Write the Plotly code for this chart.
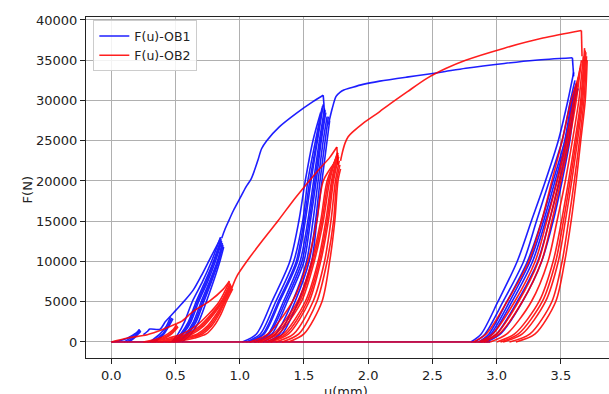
import plotly.graph_objects as go

# ---------------- OB1 (blue) ----------------
# backbone (envelope) segments
ob1_bb1_u = [0.0, 0.05, 0.10, 0.15, 0.20, 0.22]
ob1_bb1_f = [0, 100, 300, 700, 1200, 1550]
ob1_bb2_u = [0.25, 0.28, 0.30, 0.38, 0.42, 0.46, 0.50, 0.58, 0.64, 0.70, 0.78, 0.855]
ob1_bb2_f = [900, 1300, 1600, 1600, 2500, 3200, 3900, 5300, 6500, 8200, 10700, 13000]
ob1_bb3_u = [0.86, 0.885, 0.91, 0.95, 1.00, 1.05, 1.09, 1.14, 1.17, 1.21, 1.31, 1.44, 1.57, 1.65]
ob1_bb3_f = [12900, 14000, 14900, 16300, 17800, 19300, 20300, 22500, 24000, 25000, 26750, 28400, 29850, 30650]
ob1_bb4_u = [1.69, 1.72, 1.75, 1.78, 1.81, 1.88, 1.96, 2.09, 2.30, 2.46, 2.60, 2.76, 3.06, 3.30, 3.59]
ob1_bb4_f = [27000, 29000, 30500, 31000, 31300, 31650, 32000, 32400, 32900, 33250, 33600, 34000, 34600, 35000, 35300]
ob1_drop_u = [[1.65, 1.66], [3.59, 3.60]]
ob1_drop_f = [[30650, 28500], [35300, 33000]]
ob1_zero_u = [0.0, 2.95]
ob1_zero_f = [0, 0]

# loop families: force levels, u at each level (+ u at peak), peak force
ob1_la_f = [0, 500, 1000]
ob1_la_u = [[0.10, 0.15, 0.19, 0.22], [0.12, 0.17, 0.20, 0.225], [0.14, 0.18, 0.21, 0.23]]
ob1_la_peak = [1550, 1450, 1350]

ob1_lb_f = [0, 1000, 2000]
ob1_lb_u = [[0.30, 0.38, 0.43, 0.46], [0.32, 0.40, 0.44, 0.47], [0.34, 0.41, 0.45, 0.48]]
ob1_lb_peak = [3100, 3000, 2900]

ob1_lc_f = [0, 1000, 2500, 5000, 7500, 10000]
ob1_lc_u = [[0.47, 0.52, 0.57, 0.63, 0.71, 0.78, 0.85],
            [0.48, 0.54, 0.60, 0.66, 0.73, 0.795, 0.855],
            [0.49, 0.55, 0.61, 0.67, 0.74, 0.80, 0.857],
            [0.50, 0.56, 0.62, 0.68, 0.75, 0.81, 0.86],
            [0.51, 0.58, 0.64, 0.70, 0.765, 0.825, 0.865],
            [0.52, 0.59, 0.65, 0.71, 0.772, 0.83, 0.867],
            [0.53, 0.60, 0.66, 0.72, 0.78, 0.835, 0.87],
            [0.55, 0.62, 0.68, 0.74, 0.795, 0.845, 0.875]]
ob1_lc_peak = [13000, 12800, 12600, 12500, 12300, 12100, 12000, 11800]

ob1_ld_f = [0, 1000, 5000, 10000, 15000, 20000, 25000]
ob1_ld_u = [[1.02, 1.13, 1.25, 1.39, 1.46, 1.51, 1.57, 1.63],
            [1.05, 1.16, 1.28, 1.42, 1.49, 1.53, 1.59, 1.64],
            [1.07, 1.18, 1.30, 1.44, 1.50, 1.545, 1.60, 1.645],
            [1.08, 1.19, 1.31, 1.45, 1.51, 1.555, 1.605, 1.65],
            [1.11, 1.22, 1.34, 1.47, 1.53, 1.575, 1.62, 1.66],
            [1.12, 1.23, 1.355, 1.485, 1.54, 1.585, 1.628, 1.665],
            [1.14, 1.25, 1.37, 1.50, 1.55, 1.595, 1.635, 1.67],
            [1.18, 1.28, 1.41, 1.52, 1.57, 1.61, 1.65, 1.68],
            [1.21, 1.31, 1.43, 1.54, 1.59, 1.625, 1.665, 1.69],
            [1.24, 1.33, 1.455, 1.56, 1.60, 1.64, 1.68, 1.70]]
ob1_ld_peak = [28500, 29000, 29300, 29500, 29000, 28800, 28500, 28000, 28000, 27500]

ob1_le_f = [0, 1000, 5000, 10000, 15000, 20000, 25000, 30000]
ob1_le_u = [[2.80, 2.88, 3.01, 3.16, 3.27, 3.38, 3.48, 3.555, 3.60],
            [2.83, 2.91, 3.05, 3.21, 3.31, 3.41, 3.51, 3.575, 3.61],
            [2.86, 2.94, 3.08, 3.24, 3.35, 3.44, 3.53, 3.585, 3.62],
            [2.87, 2.955, 3.10, 3.26, 3.365, 3.455, 3.54, 3.59, 3.622],
            [2.88, 2.97, 3.12, 3.28, 3.38, 3.47, 3.545, 3.595, 3.625],
            [2.90, 3.00, 3.16, 3.32, 3.41, 3.49, 3.56, 3.605, 3.63],
            [2.92, 3.03, 3.20, 3.35, 3.44, 3.51, 3.57, 3.61, 3.635]]
ob1_le_peak = [33500, 32500, 32000, 32200, 32000, 31500, 31500]

# ---------------- OB2 (red) ----------------
ob2_bb1_u = [0.0, 0.13, 0.28, 0.40, 0.51]
ob2_bb1_f = [0, 500, 900, 1540, 2290]
ob2_bb2_u = [0.51, 0.55, 0.64, 0.765, 0.87, 0.92]
ob2_bb2_f = [2290, 2600, 3830, 5080, 6530, 7575]
ob2_bb3_u = [0.925, 0.975, 1.067, 1.18, 1.30, 1.44, 1.61, 1.70, 1.756]
ob2_bb3_f = [6100, 8100, 10280, 12670, 15100, 18050, 21310, 22900, 24220]
ob2_bb4_u = [1.785, 1.80, 1.82, 1.844, 1.88, 1.96, 2.09, 2.155, 2.306, 2.457, 2.608, 2.759, 3.06, 3.36, 3.66]
ob2_bb4_f = [22500, 23600, 24700, 25500, 26100, 27170, 28620, 29400, 31100, 32750, 34000, 35000, 36500, 37750, 38700]
ob2_drop_u = [[1.756, 1.765], [3.66, 3.665]]
ob2_drop_f = [[24220, 22000], [38700, 35500]]
ob2_zero_u = [0.0, 2.95]
ob2_zero_f = [0, 0]

ob2_la_f = [0, 500, 1000, 1500]
ob2_la_u = [[0.25, 0.38, 0.44, 0.48, 0.51], [0.28, 0.40, 0.46, 0.49, 0.515], [0.31, 0.42, 0.47, 0.50, 0.52]]
ob2_la_peak = [2200, 2000, 1900]

ob2_lb_f = [0, 500, 1000, 2000, 3500, 5000]
ob2_lb_u = [[0.33, 0.45, 0.55, 0.66, 0.76, 0.84, 0.92],
            [0.36, 0.49, 0.59, 0.69, 0.78, 0.855, 0.925],
            [0.38, 0.51, 0.61, 0.705, 0.79, 0.86, 0.928],
            [0.39, 0.53, 0.63, 0.72, 0.80, 0.865, 0.93],
            [0.42, 0.57, 0.67, 0.75, 0.82, 0.875, 0.935],
            [0.44, 0.59, 0.69, 0.765, 0.83, 0.88, 0.938],
            [0.45, 0.61, 0.71, 0.78, 0.84, 0.885, 0.94],
            [0.48, 0.65, 0.74, 0.80, 0.855, 0.895, 0.945]]
ob2_lb_peak = [7500, 7300, 7200, 7100, 7000, 6900, 6800, 6600]

ob2_lc_f = [0, 1000, 5000, 10000, 15000, 20000]
ob2_lc_u = [[1.08, 1.22, 1.41, 1.53, 1.60, 1.65, 1.75],
            [1.12, 1.26, 1.45, 1.56, 1.63, 1.68, 1.755],
            [1.14, 1.28, 1.465, 1.57, 1.64, 1.69, 1.757],
            [1.16, 1.30, 1.48, 1.58, 1.65, 1.70, 1.76],
            [1.20, 1.34, 1.51, 1.61, 1.67, 1.715, 1.765],
            [1.22, 1.36, 1.525, 1.62, 1.68, 1.722, 1.767],
            [1.24, 1.38, 1.54, 1.63, 1.69, 1.73, 1.77],
            [1.28, 1.42, 1.57, 1.66, 1.71, 1.745, 1.775],
            [1.33, 1.46, 1.60, 1.68, 1.73, 1.755, 1.78],
            [1.38, 1.50, 1.64, 1.70, 1.74, 1.765, 1.785]]
ob2_lc_peak = [22500, 23000, 23200, 23500, 23500, 23200, 23000, 22500, 22000, 21500]

ob2_ld_f = [0, 1000, 5000, 10000, 15000, 20000, 25000, 30000]
ob2_ld_u = [[2.82, 2.92, 3.08, 3.25, 3.35, 3.43, 3.51, 3.58, 3.64],
            [2.86, 2.97, 3.14, 3.30, 3.39, 3.47, 3.54, 3.60, 3.65],
            [2.88, 3.00, 3.17, 3.325, 3.41, 3.485, 3.552, 3.61, 3.655],
            [2.90, 3.02, 3.20, 3.35, 3.43, 3.50, 3.565, 3.62, 3.66],
            [2.95, 3.08, 3.27, 3.40, 3.47, 3.535, 3.59, 3.64, 3.675],
            [3.00, 3.14, 3.33, 3.44, 3.505, 3.56, 3.61, 3.655, 3.685],
            [3.03, 3.17, 3.355, 3.46, 3.52, 3.572, 3.62, 3.662, 3.69],
            [3.05, 3.20, 3.38, 3.48, 3.535, 3.585, 3.63, 3.67, 3.695],
            [3.10, 3.26, 3.43, 3.51, 3.56, 3.605, 3.645, 3.68, 3.70],
            [3.15, 3.30, 3.46, 3.53, 3.58, 3.62, 3.655, 3.69, 3.705]]
ob2_ld_peak = [33000, 34000, 34500, 35000, 35500, 36500, 36200, 36000, 35500, 35000]


def add_seg(us, fs, u, f):
    us.extend(u + [None])
    fs.extend(f + [None])


def build(backbones, families, zero):
    us, fs = [], []
    add_seg(us, fs, zero[0], zero[1])
    for bu, bf in backbones:
        add_seg(us, fs, bu, bf)
    for levels, ulist, peaks in families:
        for uu, pk in zip(ulist, peaks):
            add_seg(us, fs, uu, levels + [pk])
    return us, fs


def build_drops(du, df):
    us, fs = [], []
    for u, f in zip(du, df):
        add_seg(us, fs, u, f)
    return us, fs


b_u, b_f = build([(ob1_bb1_u, ob1_bb1_f), (ob1_bb2_u, ob1_bb2_f), (ob1_bb3_u, ob1_bb3_f), (ob1_bb4_u, ob1_bb4_f)],
                 [(ob1_la_f, ob1_la_u, ob1_la_peak), (ob1_lb_f, ob1_lb_u, ob1_lb_peak),
                  (ob1_lc_f, ob1_lc_u, ob1_lc_peak), (ob1_ld_f, ob1_ld_u, ob1_ld_peak),
                  (ob1_le_f, ob1_le_u, ob1_le_peak)],
                 (ob1_zero_u, ob1_zero_f))
r_u, r_f = build([(ob2_bb1_u, ob2_bb1_f), (ob2_bb2_u, ob2_bb2_f), (ob2_bb3_u, ob2_bb3_f), (ob2_bb4_u, ob2_bb4_f)],
                 [(ob2_la_f, ob2_la_u, ob2_la_peak), (ob2_lb_f, ob2_lb_u, ob2_lb_peak),
                  (ob2_lc_f, ob2_lc_u, ob2_lc_peak), (ob2_ld_f, ob2_ld_u, ob2_ld_peak)],
                 (ob2_zero_u, ob2_zero_f))
bd_u, bd_f = build_drops(ob1_drop_u, ob1_drop_f)
rd_u, rd_f = build_drops(ob2_drop_u, ob2_drop_f)

BLUE = "#0000ff"
RED = "#ff0000"
LW = 1.6

fig = go.Figure()
fig.add_trace(go.Scatter(x=b_u, y=b_f, mode="lines", name="F(u)-OB1", legendgroup="ob1",
                         line=dict(color=BLUE, width=LW, shape="spline", smoothing=0.8),
                         connectgaps=False, opacity=0.88))
fig.add_trace(go.Scatter(x=bd_u, y=bd_f, mode="lines", showlegend=False, legendgroup="ob1",
                         line=dict(color=BLUE, width=LW), connectgaps=False, opacity=0.88))
fig.add_trace(go.Scatter(x=r_u, y=r_f, mode="lines", name="F(u)-OB2", legendgroup="ob2",
                         line=dict(color=RED, width=LW, shape="spline", smoothing=0.8),
                         connectgaps=False, opacity=0.88))
fig.add_trace(go.Scatter(x=rd_u, y=rd_f, mode="lines", showlegend=False, legendgroup="ob2",
                         line=dict(color=RED, width=LW), connectgaps=False, opacity=0.88))

x_ticks = [0.0, 0.5, 1.0, 1.5, 2.0, 2.5, 3.0, 3.5]
y_ticks = [0, 5000, 10000, 15000, 20000, 25000, 30000, 35000, 40000]

FONT = "DejaVu Sans"
FS = 13
fig.update_layout(
    width=609, height=394,
    margin=dict(l=86, r=0, t=17, b=36),
    paper_bgcolor="white", plot_bgcolor="white",
    font=dict(family=FONT, size=FS, color="#222"),
    showlegend=True,
    legend=dict(x=0.014, y=0.99, xanchor="left", yanchor="top",
                bgcolor="rgba(255,255,255,0.85)", bordercolor="#cccccc", borderwidth=1,
                font=dict(family=FONT, size=12.5, color="#222"), tracegroupgap=0,
                itemwidth=30),
    xaxis=dict(range=[-0.197, 3.875], tickvals=x_ticks, ticktext=[f"{v:.1f}" for v in x_ticks],
               showgrid=True, gridcolor="#b0b0b0", gridwidth=1, zeroline=False, automargin=False,
               showline=True, linecolor="#222", linewidth=1, mirror=True,
               ticks="outside", ticklen=5, tickcolor="#222", tickfont=dict(size=FS)),
    yaxis=dict(range=[-1990, 40370], tickvals=y_ticks, ticktext=[str(v) for v in y_ticks],
               showgrid=True, gridcolor="#b0b0b0", gridwidth=1, zeroline=False, automargin=False,
               showline=True, linecolor="#222", linewidth=1, mirror=False,
               ticks="outside", ticklen=5, tickcolor="#222", tickfont=dict(size=FS)),
    annotations=[
        dict(text="F(N)", x=-0.130, y=0.493, xref="paper", yref="paper", showarrow=False,
             textangle=-90, font=dict(family=FONT, size=FS, color="#222")),
        dict(text="u(mm)", x=0.497, y=-0.097, xref="paper", yref="paper", showarrow=False,
             yanchor="middle", font=dict(family=FONT, size=FS, color="#222")),
    ],
)

fig.write_html("out.html", config={"displayModeBar": False},
               post_script="document.body.style.margin='0';document.body.style.overflow='hidden';")
